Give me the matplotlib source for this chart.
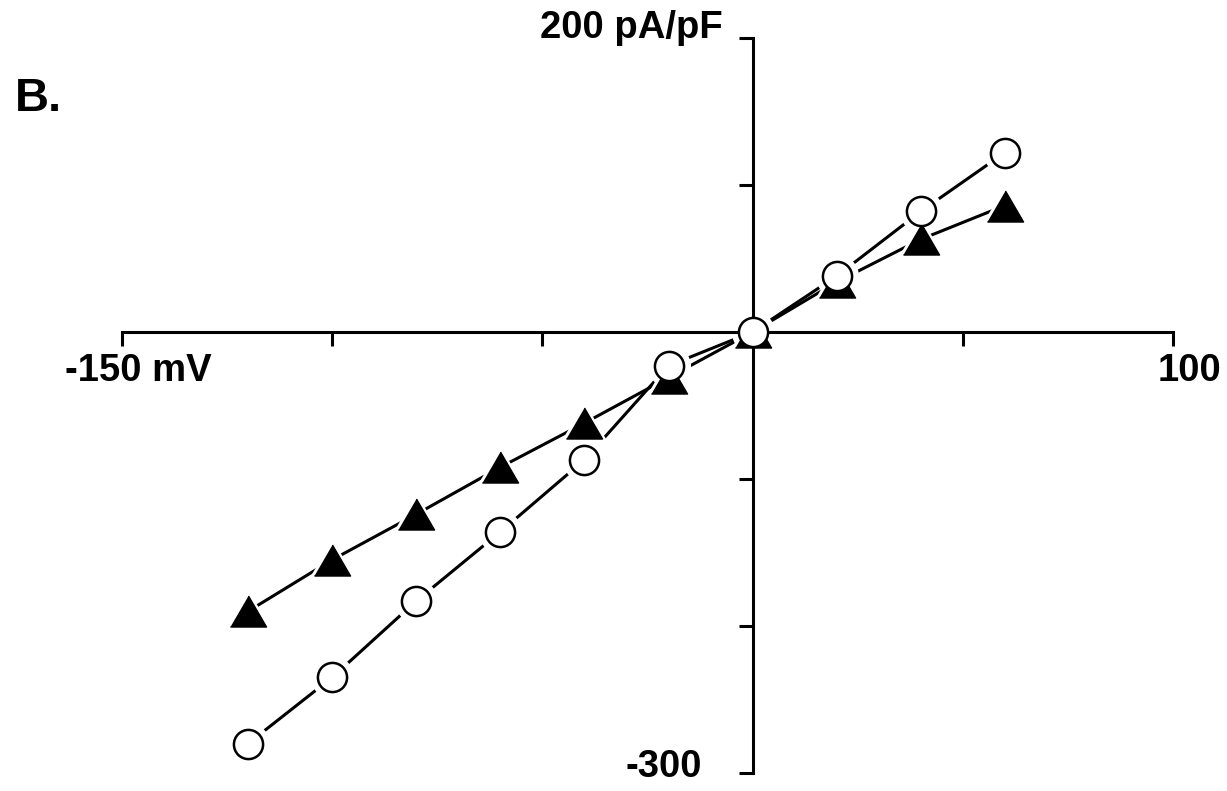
import matplotlib
matplotlib.use("Agg")
import matplotlib.pyplot as plt

voltage = [-120, -100, -80, -60, -40, -20, 0, 20, 40, 60]
circles = [-280, -235, -183, -136, -87, -23, 0, 38, 82, 122]
triangles = [-190, -155, -124, -92, -62, -31, 0, 34, 63, 86]

xticks = [-150, -100, -50, 0, 50, 100]
yticks = [-300, -200, -100, 0, 100, 200]

plt.rcParams['font.family'] = ['Liberation Sans', 'DejaVu Sans']

fig = plt.figure(figsize=(12.27, 7.91), dpi=100)
ax = fig.add_axes([0.0994, 0.0228, 0.8566, 0.9292])
ax.set_xlim(-150, 100)
ax.set_ylim(-300, 200)

tri = [(-1, -0.86), (1, -0.86), (0, 0.86)]

# connecting lines
ax.plot(voltage, triangles, color='black', lw=2.2, zorder=2)
ax.plot(voltage, circles, color='black', lw=2.2, zorder=2)
# white halos -> gaps between lines and markers
ax.plot(voltage, triangles, ls='none', marker=tri, ms=36, mfc='white', mec='none', zorder=2.5)
ax.plot(voltage, circles, ls='none', marker='o', ms=31, mfc='white', mec='none', zorder=2.5)
# markers
ax.plot(voltage, triangles, ls='none', marker=tri, ms=26, mfc='black', mec='black', zorder=4)
ax.plot(voltage, circles, ls='none', marker='o', ms=21, mfc='white', mec='black', mew=1.8, zorder=5)

for s in ['top', 'right']:
    ax.spines[s].set_visible(False)
ax.spines['left'].set_position(('data', 0))
ax.spines['bottom'].set_position(('data', 0))
for s in ['left', 'bottom']:
    ax.spines[s].set_linewidth(2.2)
    ax.spines[s].set_zorder(3)
ax.set_xticks(xticks)
ax.set_yticks(yticks)
ax.set_xticklabels([])
ax.set_yticklabels([])
ax.tick_params(axis='both', direction='out', length=10, width=2.2)

fs = 27.5
ax.text(-146, -14, '-150 mV', ha='center', va='top', fontsize=fs, fontweight='bold')
ax.text(104, -14, '100', ha='center', va='top', fontsize=fs, fontweight='bold')
ax.text(-7, 207, '200 pA/pF', ha='right', va='center', fontsize=fs, fontweight='bold')
ax.text(-12, -296, '-300', ha='right', va='center', fontsize=fs, fontweight='bold')
fig.text(0.012, 0.875, 'B.', ha='left', va='center', fontsize=34, fontweight='bold')

fig.savefig('out.png', dpi=100, facecolor='white')
